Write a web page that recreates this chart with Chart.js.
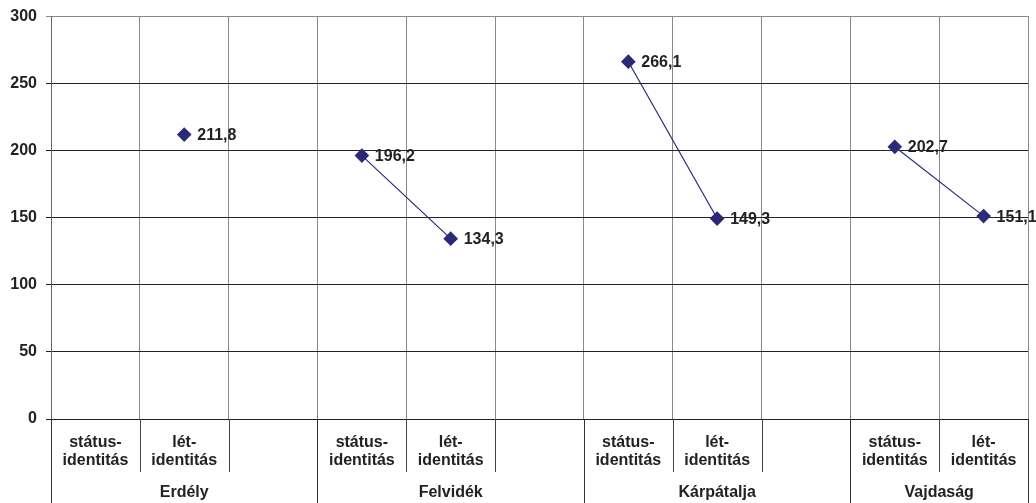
<!DOCTYPE html>
<html>
<head>
<meta charset="utf-8">
<script src="https://cdn.jsdelivr.net/npm/chart.js@4.4.1/dist/chart.umd.min.js"></script>
<style>
  html, body { margin: 0; padding: 0; background: #fff; }
  #wrap { width: 1036px; height: 503px; }
</style>
</head>
<body>
<div id="wrap"><canvas id="chart"></canvas></div>
<script>
// DATA
const categories = [
  ["státus-", "identitás"], ["lét-", "identitás"], "",
  ["státus-", "identitás"], ["lét-", "identitás"], "",
  ["státus-", "identitás"], ["lét-", "identitás"], "",
  ["státus-", "identitás"], ["lét-", "identitás"]
];
const values = [null, 211.8, null, 196.2, 134.3, null, 266.1, 149.3, null, 202.7, 151.1];
const groups = ["Erdély", "Felvidék", "Kárpátalja", "Vajdaság"];
const groupSpans = [3, 3, 3, 2];
const yTicks = [0, 50, 100, 150, 200, 250, 300];

const navy = '#2b2a78';
const family = '"Liberation Sans", Arial, sans-serif';
const font = { family: family, size: 16, weight: 'bold', lineHeight: 1.15 };

// extra lines under the axis, group names, value labels
const extras = {
  id: 'extras',
  afterDraw(chart) {
    const ctx = chart.ctx;
    const area = chart.chartArea;
    const x = chart.scales.x;
    const half = (x.getPixelForValue(1) - x.getPixelForValue(0)) / 2;
    const edge = i => x.getPixelForValue(0) - half + i * half * 2;

    // group boundaries
    const bounds = [0];
    groupSpans.forEach(s => bounds.push(bounds[bounds.length - 1] + s));

    ctx.save();
    ctx.lineWidth = 1;
    for (let i = 0; i <= categories.length; i++) {
      const px = Math.round(edge(i)) + 0.5;
      const full = bounds.includes(i);
      ctx.strokeStyle = full ? '#333' : '#444';
      ctx.beginPath();
      ctx.moveTo(px, area.bottom);
      ctx.lineTo(px, full ? chart.height : area.bottom + 53);
      ctx.stroke();
    }

    ctx.fillStyle = '#222';
    ctx.font = `bold 16px ${family}`;
    ctx.textAlign = 'center';
    ctx.textBaseline = 'middle';
    groups.forEach((g, k) => {
      const cx = (edge(bounds[k]) + edge(bounds[k + 1])) / 2;
      ctx.fillText(g, cx, area.bottom + 74);
    });

    // value labels
    ctx.textAlign = 'left';
    const meta = chart.getDatasetMeta(0);
    values.forEach((v, i) => {
      if (v === null) return;
      const pt = meta.data[i];
      ctx.fillText(v.toFixed(1).replace('.', ','), pt.x + 13, pt.y + 1);
    });
    ctx.restore();
  }
};

const chart = new Chart(document.getElementById('chart'), {
  type: 'line',
  data: {
    labels: categories,
    datasets: [{
      data: values,
      borderColor: navy,
      borderWidth: 1.2,
      pointStyle: 'rectRot',
      pointRadius: 6.5,
      pointHoverRadius: 6.5,
      pointBackgroundColor: navy,
      pointBorderColor: navy,
      spanGaps: false,
      tension: 0
    }]
  },
  options: {
    responsive: true,
    maintainAspectRatio: false,
    animation: false,
    events: [],
    layout: { padding: { top: 16, right: 8, left: 0, bottom: 0 } },
    plugins: { legend: { display: false }, tooltip: { enabled: false } },
    scales: {
      x: {
        offset: true,
        grid: { offset: true, color: '#888', drawTicks: false },
        border: { color: '#222' },
        ticks: { font: font, color: '#222', padding: 14, maxRotation: 0, autoSkip: false },
        afterFit: s => { s.height = 84; }
      },
      y: {
        min: 0,
        max: 300,
        afterBuildTicks: s => { s.ticks = yTicks.map(v => ({ value: v })); },
        grid: {
          color: c => c.tick && c.tick.value === 300 ? '#888' : '#222',
          tickLength: 5
        },
        border: { color: '#666' },
        ticks: { font: { family: family, size: 16, weight: 'bold', lineHeight: 0.9 }, color: '#222', padding: 9 },
        afterFit: s => { s.width = 51; }
      }
    }
  },
  plugins: [extras]
});
</script>
</body>
</html>
